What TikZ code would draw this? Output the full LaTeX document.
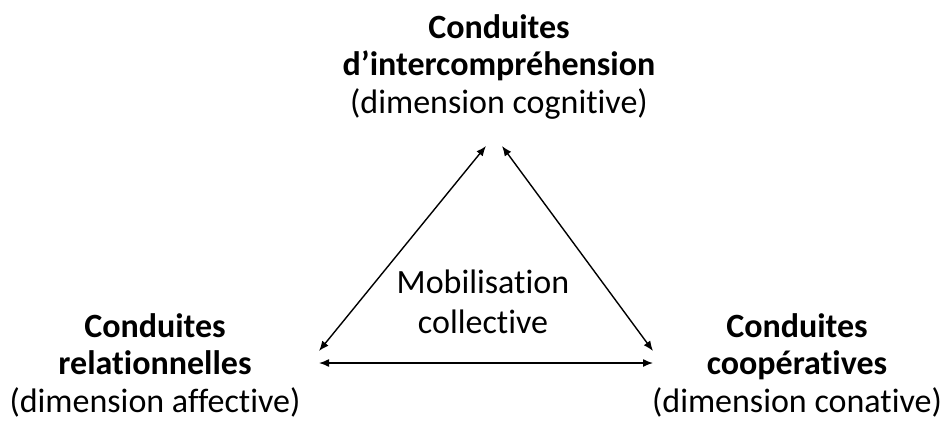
\documentclass[tikz,border=0pt]{standalone}
\usepackage{fontspec}
\setmainfont{Carlito}[Ligatures=NoCommon]
\usetikzlibrary{arrows.meta}
% centred lines, with the baseline of the last line as the box's baseline
\newcommand{\linesof}[1]{\begin{tabular}[b]{@{}c@{}}#1\end{tabular}}
\begin{document}
\begin{tikzpicture}[x=1pt,y=-1pt,
  label/.style={inner sep=0pt,anchor=base,font=\fontsize{34}{37.5}\selectfont},
  link/.style={{Latex[length=10pt,width=8pt]}-{Latex[length=10pt,width=8pt]},line width=1.4pt}]
  \useasboundingbox (0,0) rectangle (949,421);
  % corners of the triangle
  \coordinate (tl) at (486,146);
  \coordinate (tr) at (502,146);
  \coordinate (l) at (319,351);
  \coordinate (r) at (653,351);
  \coordinate (bl) at (319,363);
  \coordinate (br) at (653,363);
  % the three kinds of conduct (placed by the baseline of their last line)
  \node[label] (top) at (499,113) {\linesof{\textbf{Conduites}\\\textbf{d’intercompréhension}\\(dimension cognitive)}};
  \node[label] (left) at (155,412) {\linesof{\textbf{Conduites}\\\textbf{relationnelles}\\(dimension affective)}};
  \node[label] (right) at (797,412) {\linesof{\textbf{Conduites}\\\textbf{coopératives}\\(dimension conative)}};
  \node[label] (mid) at (483,333) {\linesof{Mobilisation\\[2pt]collective}};
  % links between them
  \draw[link] (l) -- (tl);
  \draw[link] (tr) -- (r);
  \draw[link] (bl) -- (br);
\end{tikzpicture}
\end{document}
